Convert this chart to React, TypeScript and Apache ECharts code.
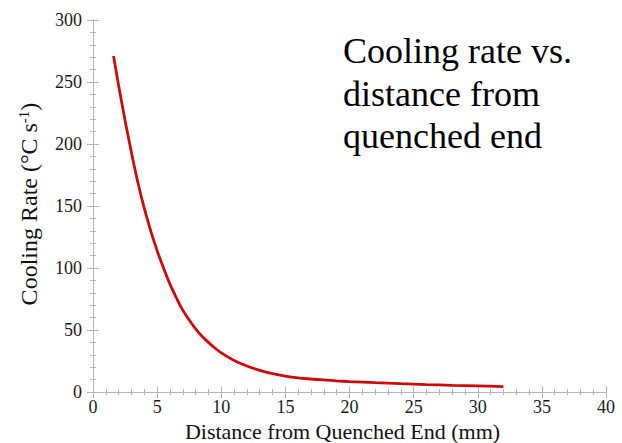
import React, { useEffect, useRef } from "react";
import * as echarts from "echarts";

const distanceMm = [1.6, 2.0, 2.5, 3.0, 3.5, 4.0, 4.5, 5.0, 5.5, 6.0, 6.5, 7.0, 7.5, 8.0, 8.5, 9.0, 9.5, 10.0, 11.0, 12.0, 13.0, 14.0, 15.0, 16.0, 17.0, 18.0, 19.0, 20.0, 22.0, 24.0, 26.0, 28.0, 30.0, 32.0];
const coolingRate = [271, 247, 219, 193, 169, 148, 130, 114, 100, 87, 76, 66, 58, 51, 45, 40, 35.5, 31.5, 25.5, 21, 17.5, 14.8, 12.8, 11.4, 10.5, 9.7, 9.0, 8.4, 7.5, 6.7, 6.0, 5.4, 4.9, 4.4];
const xTicks = [0, 5, 10, 15, 20, 25, 30, 35, 40];
const yTicks = [0, 50, 100, 150, 200, 250, 300];
const annotationLines = ["Cooling rate vs.", "distance from", "quenched end"];

const FONT = "'Liberation Serif', 'Times New Roman', serif";
const AXIS_COLOR = "#b5b5b5";

export default function App() {
  const ref = useRef<HTMLDivElement>(null);
  useEffect(() => {
    if (!ref.current) return;
    const chart = echarts.init(ref.current, undefined, { renderer: "svg" });
    const axisCommon = {
      axisLine: { show: true, lineStyle: { color: AXIS_COLOR, width: 1 } },
      axisTick: { show: true, inside: true, length: 6, lineStyle: { color: AXIS_COLOR } },
      minorTick: { show: true, splitNumber: 5, length: 3, lineStyle: { color: AXIS_COLOR } },
      splitLine: { show: false },
    };
    const data = distanceMm.map((d, i) => [d, coolingRate[i]]);
    chart.setOption({
      animation: false,
      backgroundColor: "#ffffff",
      grid: { left: 93, right: 16, top: 20, bottom: 51, containLabel: false, outerBoundsMode: "none" },
      xAxis: [
        {
          type: "value",
          position: "bottom",
          min: xTicks[0],
          max: xTicks[xTicks.length - 1],
          interval: 5,
          ...axisCommon,
          axisLabel: { color: "#1a1a1a", fontFamily: FONT, fontSize: 18, margin: 6 },
          name: "Distance from Quenched End (mm)",
          nameLocation: "middle",
          nameGap: 25,
          nameTextStyle: { color: "#111", fontFamily: FONT, fontSize: 22, padding: [0, 14, 0, 0] },
        },
        {
          type: "value",
          position: "top",
          min: xTicks[0],
          max: xTicks[xTicks.length - 1],
          interval: 5,
          ...axisCommon,
          axisLabel: { show: false },
        },
      ],
      yAxis: [
        {
          type: "value",
          position: "left",
          min: yTicks[0],
          max: yTicks[yTicks.length - 1],
          interval: 50,
          ...axisCommon,
          axisLabel: { color: "#1a1a1a", fontFamily: FONT, fontSize: 18, margin: 11 },
          name: "Cooling Rate (°C s{sup|-1})",
          nameLocation: "middle",
          nameGap: 51,
          nameRotate: 90,
          nameTextStyle: {
            color: "#111",
            fontFamily: FONT,
            fontSize: 24,
            padding: [0, 0, 0, 4],
            rich: {
              sup: { fontFamily: FONT, fontSize: 15, verticalAlign: "top", padding: [0, 0, 11, 0], color: "#111" },
            },
          },
        },
        {
          type: "value",
          position: "right",
          min: yTicks[0],
          max: yTicks[yTicks.length - 1],
          interval: 50,
          ...axisCommon,
          axisLabel: { show: false },
        },
      ],
      series: [
        {
          type: "line",
          data,
          smooth: 0.3,
          showSymbol: false,
          symbol: "none",
          lineStyle: { color: "#cc0a0a", width: 2.8 },
          xAxisIndex: 0,
          yAxisIndex: 0,
        },
      ],
      graphic: [
        {
          type: "text",
          left: 343,
          top: 30,
          style: {
            text: annotationLines.join("\n"),
            fontFamily: FONT,
            fontSize: 36,
            fill: "#000",
            lineHeight: 42.5,
          },
        },
      ],
    });
    return () => chart.dispose();
  }, []);
  return <div ref={ref} style={{ position: "absolute", left: 0, top: 0, width: 622, height: 443 }} />;
}
